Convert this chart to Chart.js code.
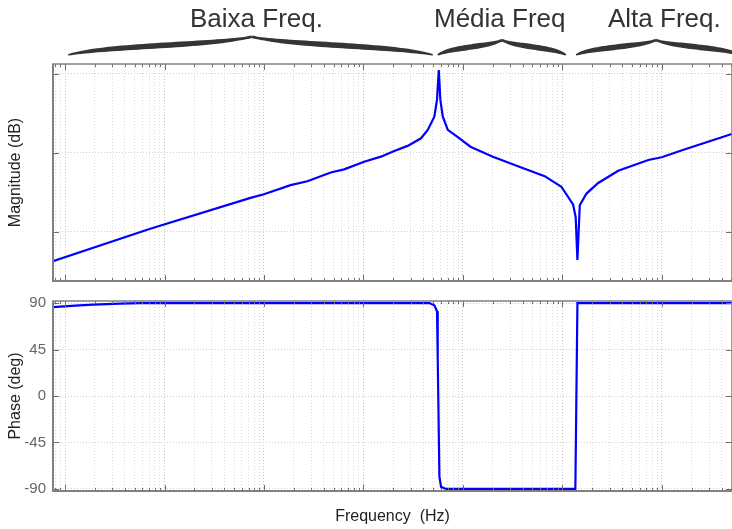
<!DOCTYPE html>
<html lang="pt">
<head>
  <meta charset="UTF-8">
  <title>Diagrama de Bode - Faixas de Frequência</title>
  <script src="https://cdn.jsdelivr.net/npm/chart.js"></script>
  <style>
    body {
      margin: 0;
      background: #fff;
      font-family: "Liberation Sans", Arial, sans-serif;
    }
    #wrap {
      position: relative;
      width: 732px;
      height: 529px;
      overflow: hidden;
    }
    canvas {
      position: absolute;
      left: 0;
    }
    #magChart { top: 0; }
    #phaseChart { top: 290px; }
    .band {
      position: absolute;
      top: 5px;
      font-size: 26px;
      line-height: 26px;
      color: #333;
      white-space: nowrap;
    }
  </style>
</head>
<body>
  <div id="wrap">
    <canvas id="magChart" width="732" height="290"></canvas>
    <canvas id="phaseChart" width="732" height="239"></canvas>
    <div class="band" style="left:190px">Baixa Freq.</div>
    <div class="band" style="left:434px">Média Freq</div>
    <div class="band" style="left:608px">Alta Freq.</div>
  </div>

  <script>
    // frequency (Hz) and magnitude (dB)
    const magFreq = [0.757, 7.19, 73.3, 99.8, 185, 273, 469, 639, 1016, 1497, 2040, 2782,
      3790, 4430, 5160, 5490, 5717, 5930, 6270, 7040, 8890, 11900, 20000, 38600, 66300,
      97700, 128000, 136000, 141600, 149500, 174700, 229000, 364000, 731000, 995000,
      1710000, 4010000, 5300000];
    const magDb = [-68.5, -48.0, -28.5, -26.2, -20.5, -18.0, -12.5, -10.5, -5.7, -2.5, 1.1, 4.3,
      9.1, 14.4, 22.7, 33.5, 52.1, 33.5, 22.9, 14.4, 9.8, 3.8, -2.5, -9.3, -14.8,
      -21.5, -32.6, -40.7, -67.7, -33.2, -25.8, -19.1, -11.4, -4.6, -2.9,
      2.2, 9.8, 12.3];

    // frequency (Hz) and phase (deg)
    const phaseFreq = [0.757, 1.26, 1.92, 3.58, 5.7, 4600, 5160, 5490, 5580, 5800, 6030, 6770,
      135000, 141600, 5300000];
    const phaseDeg = [86, 87.5, 88.5, 89.5, 90, 90, 87.8, 82, 37, -78, -88, -90,
      -90, 90, 90];

    const magTicks = [-50, 0, 50];
    const phaseTicks = [-90, -45, 0, 45, 90];

    const xMin = 0.757;
    const xMax = 5.07e6;

    function isDecade(v) {
      const e = Math.log10(v);
      return Math.abs(e - Math.round(e)) < 1e-9;
    }

    function logTicks(scale) {
      const ticks = [];
      for (let e = -1; e <= 7; e++) {
        for (let m = 1; m <= 9; m++) {
          const v = m * Math.pow(10, e);
          if (v >= xMin && v <= xMax) ticks.push({ value: v });
        }
      }
      scale.ticks = ticks;
    }

    // MATLAB style box with inward tick marks
    const boxPlugin = {
      id: 'box',
      afterDraw(chart) {
        const { ctx, chartArea: a, scales } = chart;
        ctx.save();
        ctx.strokeStyle = '#6e6e6e';
        ctx.lineWidth = 1;
        ctx.beginPath();
        scales.x.ticks.forEach(t => {
          const px = Math.round(scales.x.getPixelForValue(t.value)) + 0.5;
          const len = isDecade(t.value) ? 6 : 3;
          ctx.moveTo(px, a.bottom); ctx.lineTo(px, a.bottom - len);
          ctx.moveTo(px, a.top); ctx.lineTo(px, a.top + len);
        });
        scales.y.ticks.forEach(t => {
          const py = Math.round(scales.y.getPixelForValue(t.value)) + 0.5;
          ctx.moveTo(a.left, py); ctx.lineTo(a.left + 6, py);
          ctx.moveTo(a.right, py); ctx.lineTo(a.right - 6, py);
        });
        ctx.stroke();
        ctx.strokeStyle = '#808080';
        ctx.lineWidth = 1.5;
        ctx.strokeRect(a.left, a.top, a.width, a.height);
        ctx.lineWidth = 2;
        ctx.beginPath();
        ctx.moveTo(a.left, a.top); ctx.lineTo(a.left, a.bottom); ctx.lineTo(a.right, a.bottom);
        ctx.stroke();
        ctx.restore();
      }
    };

    // curly braces over the three bands
    function drawHalfBrace(ctx, xe, xm, yEnd, yArm, yTip) {
      const L = xm - xe;
      const p = [[xe, yEnd], [xe + 0.2 * L, yArm], [xm - 0.2 * L, yArm], [xm, yTip]];
      const n = 40, up = [], down = [];
      for (let i = 0; i <= n; i++) {
        const t = i / n, u = 1 - t;
        const x = u*u*u*p[0][0] + 3*u*u*t*p[1][0] + 3*u*t*t*p[2][0] + t*t*t*p[3][0];
        const y = u*u*u*p[0][1] + 3*u*u*t*p[1][1] + 3*u*t*t*p[2][1] + t*t*t*p[3][1];
        const dx = 3*u*u*(p[1][0]-p[0][0]) + 6*u*t*(p[2][0]-p[1][0]) + 3*t*t*(p[3][0]-p[2][0]);
        const dy = 3*u*u*(p[1][1]-p[0][1]) + 6*u*t*(p[2][1]-p[1][1]) + 3*t*t*(p[3][1]-p[2][1]);
        const d = Math.hypot(dx, dy) || 1;
        const w = (1.2 + 4.3 * Math.pow(Math.sin(Math.PI * Math.min(t, 0.93)), 0.7)) / 2;
        up.push([x - dy / d * w, y + dx / d * w]);
        down.push([x + dy / d * w, y - dx / d * w]);
      }
      ctx.beginPath();
      ctx.moveTo(up[0][0], up[0][1]);
      up.forEach(q => ctx.lineTo(q[0], q[1]));
      down.reverse().forEach(q => ctx.lineTo(q[0], q[1]));
      ctx.closePath();
      ctx.fill();
    }

    const bracePlugin = {
      id: 'braces',
      afterDraw(chart) {
        const ctx = chart.ctx;
        ctx.save();
        ctx.fillStyle = '#353535';
        [[68, 433, 251.7, 45.5, 36.7], [437.7, 566, 502, 47, 40], [576, 740, 656, 47, 40]]
          .forEach(b => {
            drawHalfBrace(ctx, b[0], b[2], 55, b[3], b[4]);
            drawHalfBrace(ctx, b[1], b[2], 55, b[3], b[4]);
          });
        ctx.restore();
      }
    };

    const gridColor = ctx => (ctx.tick && isDecade(ctx.tick.value)) ? '#c4c4c4' : '#dcdcdc';

    function xAxis(height, title) {
      return {
        type: 'logarithmic',
        min: xMin,
        max: xMax,
        afterBuildTicks: logTicks,
        afterFit: s => { s.height = height; },
        ticks: { display: false },
        grid: { color: gridColor, drawTicks: false },
        border: { display: false, dash: [1, 2] },
        title: {
          display: !!title,
          text: title,
          color: '#222',
          font: { size: 16, family: '"Liberation Sans", Arial, sans-serif' },
          padding: { top: 0, bottom: 3 }
        }
      };
    }

    function yAxis(min, max, ticks, title, showLabels) {
      return {
        min: min,
        max: max,
        afterBuildTicks: s => { s.ticks = ticks.map(v => ({ value: v })); },
        afterFit: s => { s.width = 53; },
        ticks: {
          display: showLabels,
          padding: 7,
          color: '#666',
          // small lineHeight keeps the label overflow from pushing the plot down
          font: { size: 15, lineHeight: 0.5, family: '"Liberation Sans", Arial, sans-serif' },
          callback: v => String(v)
        },
        grid: { color: '#cfcfcf', drawTicks: false },
        border: { display: false, dash: [1, 2] },
        title: {
          display: true,
          text: title,
          color: '#222',
          font: { size: 16, family: '"Liberation Sans", Arial, sans-serif' },
          padding: { top: 6, bottom: 0 }
        }
      };
    }

    function lineData(xs, ys) {
      return {
        datasets: [{
          data: xs.map((f, i) => ({ x: f, y: ys[i] })),
          borderColor: '#0000ff',
          borderWidth: 2.2,
          pointRadius: 0,
          tension: 0,
          fill: false
        }]
      };
    }

    const common = {
      responsive: false,
      animation: false,
      plugins: { legend: { display: false }, tooltip: { enabled: false } }
    };

    new Chart(document.getElementById('magChart'), {
      type: 'line',
      data: lineData(magFreq, magDb),
      options: {
        ...common,
        layout: { padding: { top: 64, left: 0, right: 0, bottom: 0 } },
        scales: {
          x: xAxis(9, ''),
          y: yAxis(-81, 56, magTicks, 'Magnitude (dB)', false)
        }
      },
      plugins: [boxPlugin, bracePlugin]
    });

    new Chart(document.getElementById('phaseChart'), {
      type: 'line',
      data: lineData(phaseFreq, phaseDeg),
      options: {
        ...common,
        layout: { padding: { top: 11, left: 0, right: 0, bottom: 0 } },
        scales: {
          x: xAxis(38, 'Frequency  (Hz)'),
          y: yAxis(-92, 92, phaseTicks, 'Phase (deg)', true)
        }
      },
      plugins: [boxPlugin]
    });
  </script>
</body>
</html>
